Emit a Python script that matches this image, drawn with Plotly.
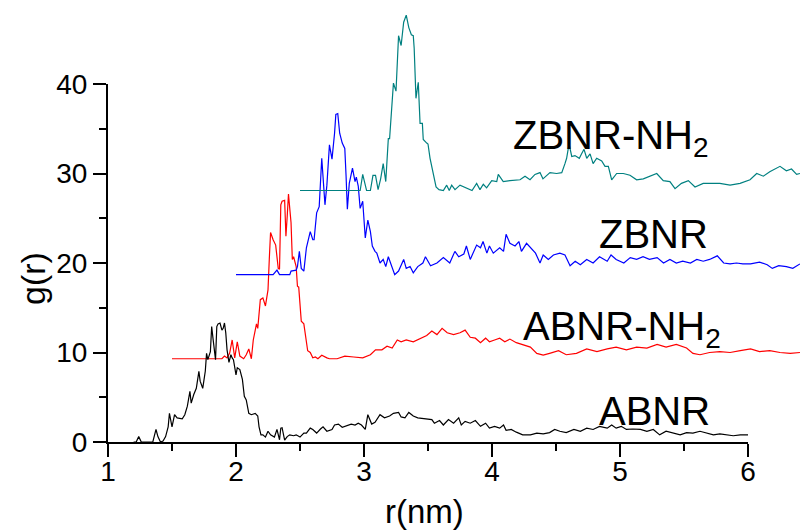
import plotly.graph_objects as go

# ---------------- data (r in nm, g(r)) ----------------
abnr_r = [1.20, 1.22, 1.24, 1.26, 1.35, 1.375, 1.39, 1.41, 1.43, 1.45, 1.47, 1.48, 1.50, 1.52, 1.54, 1.58, 1.60, 1.62,
          1.64, 1.65, 1.67, 1.69, 1.71, 1.72, 1.74, 1.76, 1.77, 1.78, 1.80, 1.81, 1.82, 1.84, 1.85, 1.86, 1.875, 1.89,
          1.90, 1.91, 1.92, 1.93, 1.945, 1.96, 1.97, 1.98, 2.00, 2.01, 2.03, 2.05, 2.065, 2.08, 2.10, 2.12, 2.15, 2.17,
          2.18, 2.195, 2.21, 2.23, 2.25, 2.27, 2.30, 2.32, 2.34, 2.35, 2.36, 2.38, 2.40, 2.42, 2.45, 2.47, 2.50, 2.53,
          2.55, 2.58, 2.60, 2.63, 2.66, 2.68, 2.71, 2.75, 2.77, 2.80, 2.83, 2.86, 2.90, 2.93, 2.955, 2.98, 3.01, 3.03,
          3.06, 3.086, 3.10, 3.125, 3.16, 3.20, 3.23, 3.27, 3.29, 3.32, 3.35, 3.385, 3.42, 3.48, 3.53, 3.55, 3.59, 3.62,
          3.66, 3.70, 3.74, 3.76, 3.79, 3.83, 3.87, 3.91, 3.95, 3.98, 4.02, 4.06, 4.09, 4.11, 4.15, 4.19, 4.24, 4.30,
          4.35, 4.40, 4.45, 4.49, 4.53, 4.58, 4.64, 4.69, 4.74, 4.79, 4.84, 4.90, 4.935, 4.97, 5.01, 5.05, 5.10, 5.16,
          5.21, 5.26, 5.31, 5.36, 5.42, 5.47, 5.52, 5.57, 5.625, 5.68, 5.73, 5.78, 5.83, 5.885, 5.94, 5.99, 6.00]
abnr_g = [0.0, 0.0, 0.6, 0.0, 0.0, 1.4, 0.6, 0.0, 0.1, 0.6, 1.7, 3.2, 1.7, 3.05, 2.7, 2.6, 3.05, 4.0,
          5.65, 4.35, 5.3, 6.0, 7.9, 6.8, 6.0, 7.9, 9.9, 9.2, 10.1, 12.9, 11.6, 9.2, 12.9, 13.2, 13.3, 12.5,
          12.7, 13.3, 12.2, 10.3, 8.9, 9.75, 9.4, 9.2, 7.5, 8.3, 8.1, 7.0, 5.1, 4.7, 3.2, 3.05, 3.2, 2.9,
          1.7, 0.8, 0.8, 0.55, 1.2, 0.8, 0.55, 1.4, 0.25, 1.55, 1.6, 0.2, 0.6, 0.8, 0.7, 0.8, 0.55, 1.0,
          1.0, 1.55, 1.4, 1.0, 1.45, 1.7, 1.2, 1.4, 1.9, 2.0, 1.65, 1.8, 2.0, 1.9, 2.1, 1.9, 1.4, 3.05,
          2.0, 2.2, 2.55, 3.05, 2.7, 2.9, 3.2, 3.3, 2.8, 2.7, 3.3, 2.9, 2.7, 2.55, 2.5, 2.1, 2.4, 1.9,
          2.5, 2.1, 2.7, 1.9, 2.3, 2.1, 2.4, 1.75, 2.1, 1.55, 1.75, 1.55, 1.9, 1.3, 1.4, 1.1, 0.8, 0.8,
          1.0, 0.9, 1.05, 1.4, 1.2, 1.05, 1.4, 1.2, 1.55, 1.4, 1.75, 1.55, 1.9, 1.55, 1.75, 1.4, 1.45, 1.4,
          1.2, 1.4, 0.8, 1.2, 1.0, 0.8, 1.05, 1.0, 1.2, 1.0, 0.8, 0.9, 0.8, 0.7, 0.8, 0.8, 0.8]

abnr_nh2_r = [1.50, 1.89, 1.91, 1.93, 1.95, 1.97, 1.99, 2.01, 2.03, 2.06, 2.08, 2.10, 2.12, 2.135, 2.16, 2.17,
              2.19, 2.21, 2.23, 2.25, 2.26, 2.27, 2.29, 2.31, 2.33, 2.34, 2.35, 2.36, 2.38, 2.39, 2.40, 2.41,
              2.43, 2.44, 2.45, 2.47, 2.48, 2.49, 2.51, 2.53, 2.56, 2.58, 2.60, 2.62, 2.64, 2.67, 2.71, 2.73,
              2.79, 2.85, 2.92, 2.99, 3.05, 3.09, 3.14, 3.18, 3.22, 3.26, 3.29, 3.33, 3.385, 3.44, 3.49, 3.53,
              3.57, 3.61, 3.65, 3.70, 3.75, 3.79, 3.83, 3.87, 3.91, 3.95, 3.98, 4.02, 4.06, 4.10, 4.14, 4.19,
              4.24, 4.30, 4.35, 4.40, 4.45, 4.52, 4.58, 4.66, 4.74, 4.82, 4.90, 4.97, 5.05, 5.13, 5.21, 5.29,
              5.36, 5.44, 5.52, 5.57, 5.625, 5.70, 5.78, 5.86, 5.94, 6.02, 6.09, 6.17, 6.25, 6.33, 6.406]
abnr_nh2_g = [9.3, 9.3, 9.6, 9.4, 9.9, 11.4, 9.4, 11.2, 9.6, 9.3, 9.75, 10.4, 9.3, 11.4, 13.2, 12.7,
              15.9, 16.1, 15.2, 17.0, 20.4, 23.4, 22.6, 22.0, 19.4, 19.3, 26.5, 26.9, 27.0, 23.0, 25.2, 27.7,
              24.5, 20.4, 20.7, 19.6, 17.4, 17.3, 13.5, 13.2, 10.2, 10.0, 9.4, 9.5, 9.3, 9.7, 9.4, 9.3,
              9.3, 9.6, 9.5, 9.4, 9.75, 10.3, 10.3, 10.7, 10.5, 11.4, 11.2, 11.4, 11.2, 11.6, 11.9, 12.4,
              12.0, 12.7, 12.2, 12.0, 12.2, 12.5, 11.7, 11.6, 11.1, 11.6, 11.2, 11.4, 11.6, 11.2, 11.5, 11.1,
              10.9, 10.6, 9.9, 9.7, 9.9, 10.2, 9.75, 9.9, 10.4, 10.1, 10.4, 10.6, 10.3, 10.6, 10.5, 10.9,
              10.6, 10.9, 10.5, 9.9, 9.75, 10.0, 10.1, 10.0, 10.2, 10.4, 10.1, 10.2, 10.0, 9.9, 10.0]

zbnr_r = [2.00, 2.29, 2.32, 2.34, 2.42, 2.43, 2.47, 2.48, 2.495, 2.51, 2.53, 2.55, 2.58, 2.60, 2.61, 2.63,
          2.65, 2.67, 2.695, 2.71, 2.73, 2.75, 2.77, 2.78, 2.795, 2.81, 2.83, 2.85, 2.86, 2.87, 2.885, 2.91,
          2.93, 2.94, 2.955, 2.97, 2.99, 3.01, 3.03, 3.05, 3.065, 3.086, 3.10, 3.125, 3.15, 3.17, 3.19, 3.22,
          3.24, 3.27, 3.31, 3.33, 3.36, 3.385, 3.42, 3.46, 3.48, 3.52, 3.57, 3.62, 3.65, 3.67, 3.71, 3.74,
          3.78, 3.80, 3.83, 3.88, 3.91, 3.93, 3.96, 3.98, 4.01, 4.06, 4.09, 4.11, 4.14, 4.18, 4.21, 4.23,
          4.27, 4.31, 4.34, 4.375, 4.40, 4.44, 4.48, 4.53, 4.57, 4.61, 4.65, 4.69, 4.74, 4.79, 4.84, 4.90,
          4.93, 4.97, 5.03, 5.08, 5.13, 5.18, 5.23, 5.29, 5.34, 5.39, 5.44, 5.49, 5.55, 5.60, 5.65, 5.70,
          5.76, 5.81, 5.86, 5.91, 5.96, 6.02, 6.05, 6.09, 6.15, 6.19, 6.24, 6.30, 6.35, 6.406]
zbnr_g = [18.7, 18.7, 19.2, 18.7, 18.7, 19.1, 19.2, 19.6, 21.3, 19.4, 19.1, 21.7, 23.5, 22.6, 22.6, 25.6,
          26.3, 31.7, 26.5, 28.7, 33.2, 31.6, 34.5, 36.6, 36.7, 34.5, 33.4, 32.8, 29.7, 26.0, 28.9, 30.6,
          29.1, 29.6, 28.6, 26.1, 26.9, 22.8, 24.8, 23.5, 21.9, 21.3, 21.1, 20.0, 20.4, 19.6, 20.7, 19.4,
          18.7, 19.1, 20.4, 19.4, 19.6, 18.9, 19.6, 20.0, 20.7, 19.7, 20.0, 20.6, 20.2, 20.0, 21.3, 20.7,
          21.0, 21.9, 20.4, 22.0, 21.7, 22.4, 21.1, 21.9, 21.1, 21.7, 21.3, 23.2, 22.2, 21.9, 22.4, 21.3,
          22.2, 21.5, 21.1, 20.0, 20.9, 20.4, 20.9, 21.1, 20.9, 19.7, 20.2, 19.8, 20.4, 20.0, 20.7, 20.2,
          20.9, 20.4, 20.0, 20.6, 20.4, 20.7, 20.4, 20.6, 20.0, 20.4, 20.0, 20.2, 20.0, 20.4, 20.2, 20.4,
          20.8, 20.0, 19.9, 20.0, 19.9, 19.9, 20.0, 20.1, 19.8, 19.4, 19.7, 19.6, 19.4, 19.9]

zbnr_nh2_r = [2.50, 2.97, 2.99, 3.02, 3.05, 3.07, 3.09, 3.11, 3.13, 3.15, 3.17, 3.19, 3.20, 3.23, 3.25, 3.27,
              3.29, 3.31, 3.33, 3.35, 3.37, 3.385, 3.392, 3.406, 3.424, 3.438, 3.456, 3.463, 3.49, 3.50, 3.516,
              3.541, 3.563, 3.586, 3.62, 3.646, 3.666, 3.685, 3.711, 3.75, 3.80, 3.844, 3.88, 3.906, 3.932,
              3.958, 3.998, 4.037, 4.049, 4.088, 4.14, 4.219, 4.258, 4.297, 4.336, 4.375, 4.398, 4.453, 4.505,
              4.545, 4.57, 4.583, 4.602, 4.623, 4.648, 4.682, 4.70, 4.719, 4.74, 4.766, 4.79, 4.818, 4.857,
              4.883, 4.909, 4.935, 4.974, 5.026, 5.078, 5.13, 5.182, 5.234, 5.287, 5.338, 5.39, 5.43, 5.48,
              5.534, 5.586, 5.65, 5.716, 5.78, 5.86, 5.938, 6.016, 6.068, 6.12, 6.17, 6.25, 6.30, 6.34, 6.38, 6.406]
zbnr_nh2_g = [28.1, 28.1, 29.9, 28.1, 28.1, 29.8, 29.8, 28.2, 29.4, 31.1, 29.1, 33.9, 33.9, 40.1, 39.2, 45.4,
              44.3, 46.9, 47.7, 46.3, 45.5, 45.4, 44.0, 38.4, 40.2, 35.6, 35.6, 33.8, 33.4, 33.3, 31.7,
              29.9, 28.5, 28.2, 28.1, 28.7, 28.1, 28.7, 28.2, 28.7, 28.4, 28.1, 28.9, 28.2, 28.8,
              28.4, 29.2, 29.1, 29.9, 29.1, 29.2, 29.3, 29.7, 29.3, 29.9, 30.1, 29.4, 30.1, 30.0,
              30.1, 31.1, 31.7, 33.3, 31.9, 32.0, 31.7, 32.2, 32.7, 31.7, 32.2, 31.1, 31.7, 31.4,
              30.8, 30.8, 29.3, 30.0, 30.0, 29.8, 29.3, 29.4, 29.7, 30.0, 29.2, 29.1, 28.3, 28.9,
              29.2, 28.5, 28.9, 28.9, 28.9, 28.7, 28.9, 29.3, 30.0, 29.7, 30.2, 30.8, 30.3, 30.5, 29.9, 30.0]

x_ticks = [1, 2, 3, 4, 5, 6]
y_ticks = [0, 10, 20, 30, 40]

# ---------------- figure ----------------
W, H = 800, 531
ML, MR, MT, MB = 108, 0, 0, 89
PX_PER_R = 128.0
PX_PER_G = 8.95
plot_w = W - ML - MR
plot_h = H - MT - MB

fig = go.Figure()
line_w = 1.2
fig.add_trace(go.Scatter(x=abnr_nh2_r, y=abnr_nh2_g, mode="lines",
                         line=dict(color="#ff0000", width=line_w), xaxis="x", yaxis="y"))
fig.add_trace(go.Scatter(x=zbnr_r, y=zbnr_g, mode="lines",
                         line=dict(color="#0000ff", width=line_w), xaxis="x", yaxis="y"))
fig.add_trace(go.Scatter(x=zbnr_nh2_r, y=zbnr_nh2_g, mode="lines",
                         line=dict(color="#008080", width=line_w), xaxis="x", yaxis="y"))
fig.add_trace(go.Scatter(x=abnr_r, y=abnr_g, mode="lines",
                         line=dict(color="#000000", width=line_w), xaxis="x2", yaxis="y2"))

x_max = 1 + plot_w / PX_PER_R
y_max = plot_h / PX_PER_G
x2_frac = (x_ticks[-1] - x_ticks[0]) * PX_PER_R / plot_w
y2_frac = y_ticks[-1] * PX_PER_G / plot_h

font_fam = "Liberation Sans, Arial, sans-serif"
axis_common = dict(showline=True, linecolor="black", linewidth=2, ticks="outside",
                   ticklen=13, tickwidth=2, tickcolor="black", showgrid=False, zeroline=False,
                   automargin=False,
                   tickfont=dict(family=font_fam, size=28, color="black"))

fig.update_layout(
    template="none",
    width=W, height=H,
    margin=dict(l=ML, r=MR, t=MT, b=MB, pad=0, autoexpand=False),
    paper_bgcolor="white", plot_bgcolor="rgba(0,0,0,0)",
    showlegend=False,
    xaxis=dict(domain=[0, 1], range=[1, x_max], visible=False, automargin=False),
    yaxis=dict(domain=[0, 1], range=[0, y_max], visible=False, automargin=False),
    xaxis2=dict(domain=[0, x2_frac], range=[x_ticks[0], x_ticks[-1]], anchor="y2",
                tickvals=x_ticks, ticktext=[str(v) for v in x_ticks], ticklabelstandoff=-10,
                minor=dict(dtick=0.5, ticklen=7, tickwidth=2, tickcolor="black", ticks="outside"),
                **axis_common),
    yaxis2=dict(domain=[0, y2_frac], range=[y_ticks[0], y_ticks[-1]], anchor="x2",
                tickvals=y_ticks, ticktext=[str(v) for v in y_ticks],
                minor=dict(dtick=5, ticklen=7, tickwidth=2, tickcolor="black", ticks="outside"),
                **axis_common),
)

# axis titles
fig.add_annotation(text="g(r)", xref="paper", yref="paper", x=(33 - ML) / plot_w, y=(plot_h - 279) / plot_h,
                   xanchor="center", yanchor="middle", textangle=-90, showarrow=False,
                   font=dict(family=font_fam, size=34, color="black"))
fig.add_annotation(text="r(nm)", xref="paper", yref="paper", x=(424 - ML) / plot_w, y=(plot_h - 512) / plot_h,
                   xanchor="center", yanchor="middle", showarrow=False,
                   font=dict(family=font_fam, size=33, color="black"))

# series labels
labels = [("ZBNR-NH<sub>2</sub>", 4.15, 37.0), ("ZBNR", 4.82, 25.9),
          ("ABNR-NH<sub>2</sub>", 4.225, 15.6), ("ABNR", 4.82, 6.2)]
for txt, lx, ly in labels:
    fig.add_annotation(text=txt, xref="x", yref="y", x=lx, y=ly, xanchor="left", yanchor="top",
                       showarrow=False, font=dict(family=font_fam, size=40, color="black"))

fig.write_html("out.html")
